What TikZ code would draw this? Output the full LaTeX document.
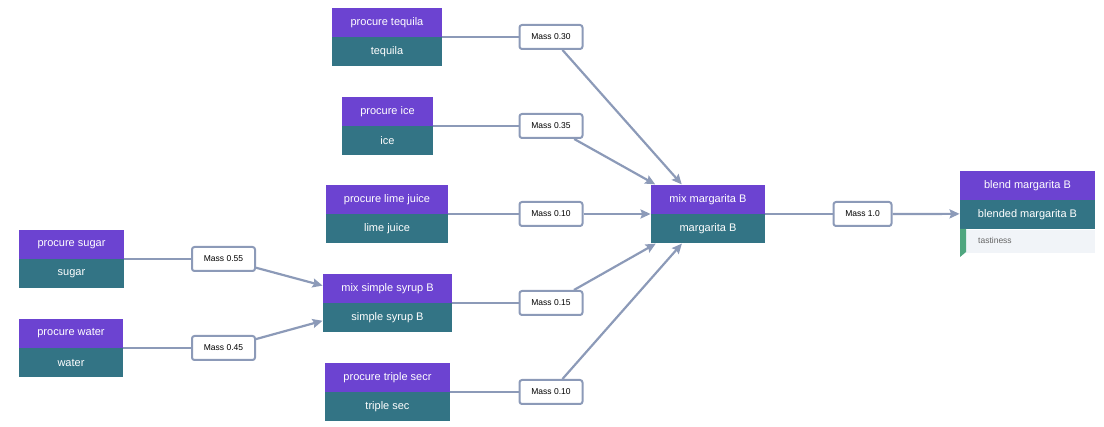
\documentclass[tikz,border=0pt]{standalone}
\usepackage{fontspec}
\setmainfont{Liberation Sans}
\usetikzlibrary{positioning,fit,arrows.meta}
\definecolor{procpurple}{HTML}{6C43D1}
\definecolor{procteal}{HTML}{337485}
\definecolor{edgegray}{HTML}{8C9AB8}
\definecolor{rowgray}{HTML}{F1F4F8}
\definecolor{tagreen}{HTML}{4FA67F}
\tikzset{
  proc/.style={fill=procpurple,text=white,minimum height=29pt,inner sep=0pt,font=\fontsize{11}{13}\selectfont},
  prod/.style={proc,fill=procteal},
  mass/.style={draw=edgegray,line width=2pt,fill=white,rounded corners=2.5pt,minimum width=63pt,minimum height=24pt,inner sep=0pt,font=\fontsize{8.5}{10}\selectfont},
  flow/.style={draw=edgegray,line width=2.2pt},
}
% name, x, y of the seam, width, process, product
\newcommand\procbox[6]{%
  \node[proc,minimum width=#4,anchor=south] (#1p) at (#2,#3) {#5};
  \node[prod,minimum width=#4,anchor=north] (#1q) at (#2,#3) {#6};
  \node[fit=(#1p)(#1q),inner sep=0pt] (#1) {};
}
\begin{document}
\begin{tikzpicture}[>={Stealth[length=10pt,width=9pt,inset=1.5pt]},line join=round,x=1pt,y=-1pt]
  \useasboundingbox (0,0) rectangle (1104,427);
  % process boxes
  \procbox{tequila}{387}{37}{110pt}{procure tequila}{tequila}
  \procbox{ice}{387.5}{126}{91pt}{procure ice}{ice}
  \procbox{lime}{387}{214}{122pt}{procure lime juice}{lime juice}
  \procbox{sugar}{71.5}{259}{105pt}{procure sugar}{sugar}
  \procbox{water}{71}{348}{104pt}{procure water}{water}
  \procbox{syrup}{387.5}{303}{129pt}{mix simple syrup B}{simple syrup B}
  \procbox{triple}{387.5}{392}{125pt}{procure triple secr}{triple sec}
  \procbox{margarita}{708}{214}{114pt}{mix margarita B}{margarita B}
  % last box with its tag row
  \node[proc,minimum width=135pt,anchor=south] (blendp) at (1027.5,200) {blend margarita B};
  \node[prod,minimum width=135pt,anchor=north] (blendq) at (blendp.south) {blended margarita B};
  \node[fill=rowgray,minimum width=135pt,minimum height=23pt,inner sep=0pt,anchor=north] (blendr) at (blendq.south) {};
  \fill[tagreen] (960,229) -- (966,229) -- (966,252) -- (960,257) -- cycle;
  \node[anchor=west,text=black!60,inner sep=0pt,font=\fontsize{8.5}{10}\selectfont] (taste) at (978,240.5) {tastiness};
  \coordinate (blendtip) at (960,257);
  \node[fit=(blendp)(blendr)(blendtip),inner sep=0pt] (blend) {};
  % mass labels
  \node[mass] (m030) at (551,37) {Mass 0.30};
  \node[mass] (m035) at (551,126) {Mass 0.35};
  \node[mass] (m010a) at (551,214) {Mass 0.10};
  \node[mass] (m015) at (551,303) {Mass 0.15};
  \node[mass] (m010b) at (551,392) {Mass 0.10};
  \node[mass] (m055) at (223.5,259) {Mass 0.55};
  \node[mass] (m045) at (223.5,348) {Mass 0.45};
  \node[mass,minimum width=58pt] (m10) at (862.5,214) {Mass 1.0};
  % flows
  \draw[flow] (tequila) -- (m030);
  \draw[flow,->] (m030) -- (margarita);
  \draw[flow] (ice) -- (m035);
  \draw[flow,->] (m035) -- (margarita);
  \draw[flow] (lime) -- (m010a);
  \draw[flow,->] (m010a) -- (margarita);
  \draw[flow] (syrup) -- (m015);
  \draw[flow,->] (m015) -- (margarita);
  \draw[flow] (triple) -- (m010b);
  \draw[flow,->] (m010b) -- (margarita);
  \draw[flow] (sugar) -- (m055);
  \draw[flow,->] (m055) -- (syrup);
  \draw[flow] (water) -- (m045);
  \draw[flow,->] (m045) -- (syrup);
  \draw[flow] (margarita) -- (m10);
  \draw[flow,->] (m10) -- (blend);
\end{tikzpicture}
\end{document}
